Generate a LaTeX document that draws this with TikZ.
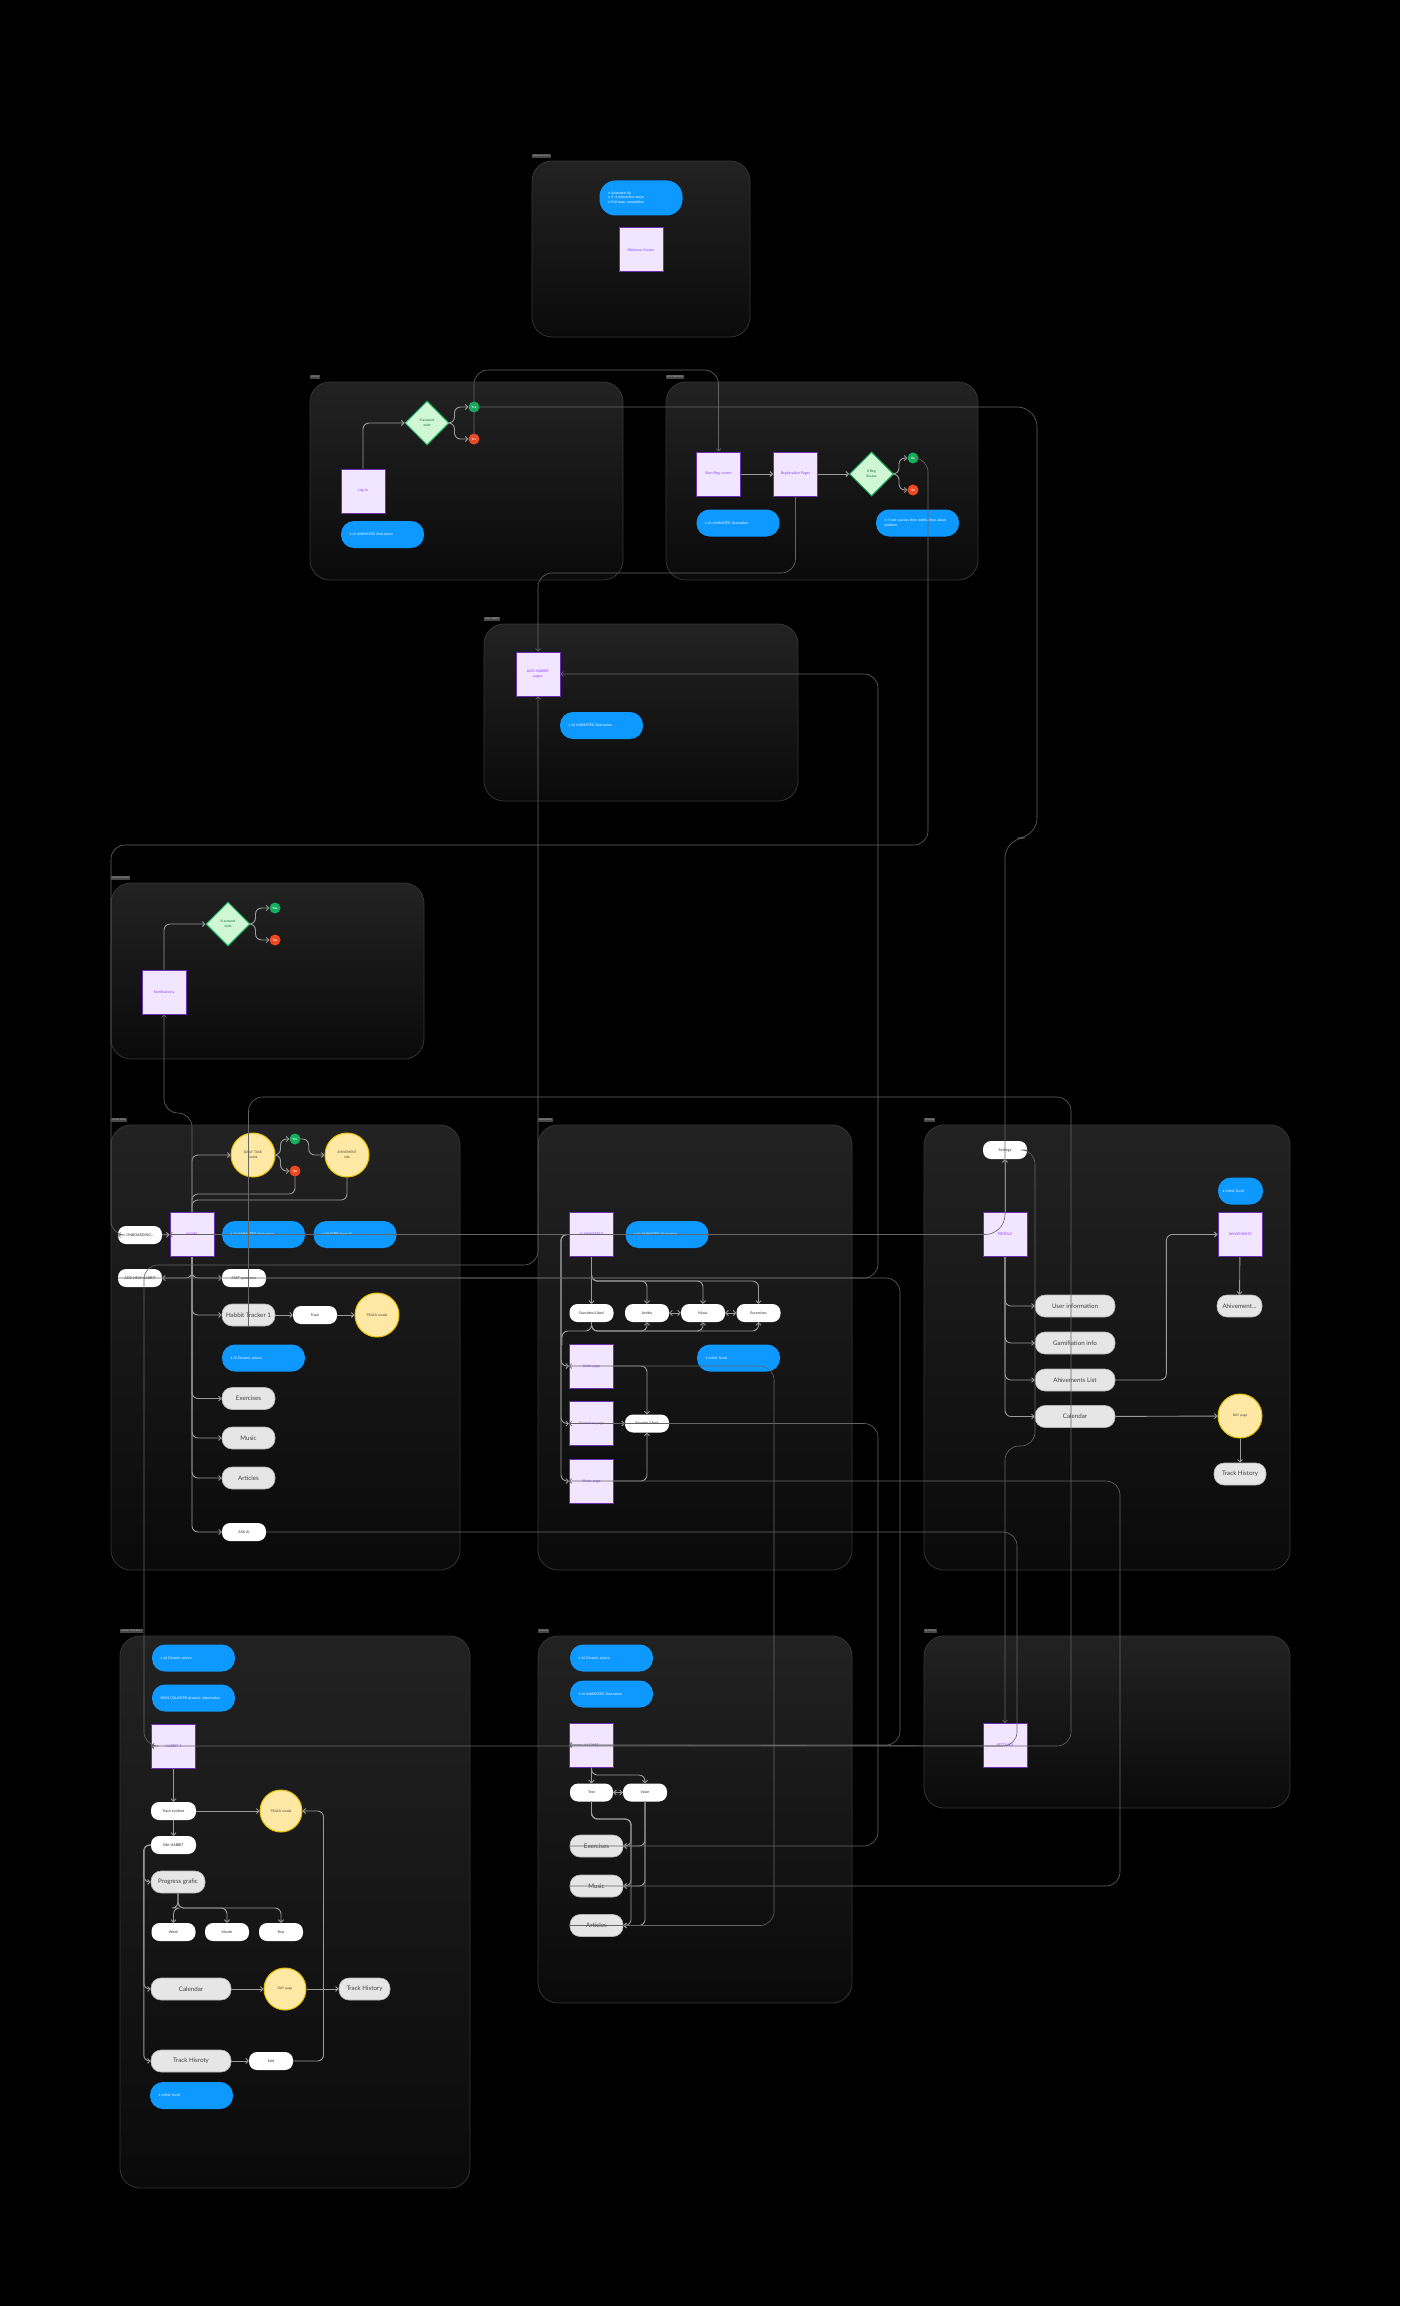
\documentclass[tikz,border=0pt]{standalone}
\usepackage{fontspec}
\setmainfont{Lato}
\usetikzlibrary{arrows.meta,positioning,shapes.geometric,calc}

\definecolor{panelline}{HTML}{353535}
\definecolor{paneltop}{HTML}{222222}
\definecolor{panelbot}{HTML}{0A0A0A}
\definecolor{tabfill}{HTML}{474747}
\definecolor{pagefill}{HTML}{F1E5FF}
\definecolor{pageline}{HTML}{6A2FB0}
\definecolor{pagetext}{HTML}{8A3FFC}
\definecolor{noteblue}{HTML}{0D99FF}
\definecolor{pillgray}{HTML}{E6E6E6}
\definecolor{pillline}{HTML}{B3B3B3}
\definecolor{modalfill}{HTML}{FFE8A3}
\definecolor{modalline}{HTML}{E5C000}
\definecolor{checkfill}{HTML}{CFF7D3}
\definecolor{checkline}{HTML}{14AE5C}
\definecolor{yesgreen}{HTML}{14AE5C}
\definecolor{nored}{HTML}{F24822}
\definecolor{linkgray}{HTML}{9A9A9A}
\definecolor{wiregray}{HTML}{666666}

\begin{document}
\begin{tikzpicture}[x=1pt,y=-1pt,
      panelbox/.style={draw=panelline, line width=0.8pt, rounded corners=20pt,
         top color=paneltop, bottom color=panelbot},
      tabbox/.style={fill=tabfill, text=white!80!black, inner sep=1pt,
         anchor=south west, font=\fontsize{2.3}{2.6}\selectfont},
      pagebox/.style={rectangle, fill=pagefill, draw=pageline, line width=1pt,
         minimum size=44pt, text width=38pt, align=center, inner sep=1pt,
         text=pagetext, font=\fontsize{3.6}{4.8}\selectfont},
      notebox/.style={rectangle, rounded corners=13pt, fill=noteblue,
         minimum width=83pt, minimum height=27pt, text width=66pt, align=left,
         text=white, font=\fontsize{3.5}{4.8}\selectfont},
      pillbox/.style={rectangle, rounded corners=8pt, fill=white,
         minimum width=44pt, minimum height=18pt, inner sep=1pt,
         text=black!85, font=\fontsize{3.6}{4.4}\selectfont},
      btnbox/.style={rectangle, rounded corners=10pt, fill=pillgray,
         draw=pillline, line width=0.6pt, minimum width=53pt, minimum height=22pt,
         inner sep=1pt, text=black!75, font=\fontsize{6.2}{7.4}\selectfont},
      modalcirc/.style={circle, fill=modalfill, draw=modalline, line width=1pt,
         minimum size=44pt, text width=26pt, align=center, inner sep=0pt,
         text=black!75, font=\fontsize{3.3}{4.6}\selectfont},
      checkdia/.style={diamond, aspect=1, fill=checkfill, draw=checkline,
         line width=1pt, minimum size=44pt, inner sep=0pt, align=center,
         text=checkline!60!black, font=\fontsize{3.4}{4.8}\selectfont},
      yesdot/.style={circle, fill=yesgreen, minimum size=11pt, inner sep=0pt,
         text=white, font=\fontsize{3}{3.5}\selectfont\bfseries},
      nodot/.style={yesdot, fill=nored},
      link/.style={draw=linkgray, line width=0.9pt, rounded corners=6pt,
         -{Straight Barb[length=2.5pt,width=5pt]}},
      wire/.style={draw=wiregray, line width=0.6pt, rounded corners=14pt,
         -{Straight Barb[length=2.5pt,width=5pt]}},
      twoway/.style={{Straight Barb[length=2.5pt,width=5pt]}-{Straight Barb[length=2.5pt,width=5pt]}}
      ]
      \fill[black] (0,0) rectangle (1400,2306);
      \useasboundingbox (0,0) rectangle (1400,2306);

    % sections
    \foreach \lbl/\xa/\ya/\xb/\yb in {%
      Welcome Screen/532/161/750/337,
      LOG IN/310/382/623/580,
      REGISTRATION/666/382/978/580,
      ADD HABBIT/484/624/798/801,
      NOTIFICATIONS/111/883/424/1059,
      HOME PAGE/111/1125/460/1570,
      NEWSFEED/538/1125/852/1570,
      PROFILE/924/1125/1290/1570,
      HABBIT TRACKER 1/120/1636/470/2188,
      AI CHAT/538/1636/852/2003,
      SETTINGS/924/1636/1290/1808}{
      \path[panelbox] (\xa,\ya) rectangle (\xb,\yb);
      \node[tabbox] at (\xa,\ya-3) {\lbl};
    }

    % welcome
    \node[notebox, minimum height=35pt, rounded corners=16pt] (wnote) at (641,198)
       {• Animated ills\\ • 3–4 interactive steps\\ • Full steps completion};
    \node[pagebox] (welcome) at (641,250) {Welcome Screen};

    % log in
    \node[pagebox] (login) at (363,491) {Log In};
    \node[checkdia] (logcheck) at (427,423) {If account\\exist};
    \node[yesdot] (logyes) at (474,407) {Yes};
    \node[nodot] (logno) at (474,439) {No};
    \node[notebox] (lognote) at (382.5,534.5) {• AI ANIMATED illustration};

    % registration
    \node[pagebox] (startreg) at (718.5,474) {Start Reg screen};
    \node[pagebox, right=32pt of startreg] (regpages) {Registration Pages};
    \node[checkdia, right=31pt of regpages] (regcheck) {If Reg\\Sucess};
    \node[yesdot] (regyes) at (913,458) {Yes};
    \node[nodot] (regno) at (913,490) {No};
    \node[notebox] (regnote) at (738,523) {• AI ANIMATED illustration};
    \node[notebox] (failnote) at (917.5,523) {• If not success then notifiaction about problem};

    % add habbit
    \node[pagebox] (addpage) at (538,674) {ADD HABBIT\\pages};
    \node[notebox] (addnote) at (601.5,725.5) {• AI ANIMATED illustration};

    % notifications
    \node[pagebox] (notepage) at (164,992) {Notifications};
    \node[checkdia] (notecheck) at (228,924) {If account\\exist};
    \node[yesdot] (noteyes) at (275,908) {Yes};
    \node[nodot] (noteno) at (275,940) {No};

    % home page
    \node[modalcirc] (daily) at (253,1155) {DAILY TASK\\modal};
    \node[yesdot] (dayyes) at (295,1139) {Yes};
    \node[nodot] (dayno) at (295,1171) {No};
    \node[modalcirc] (achinfo) at (347,1155) {AHIVEMENT\\info};
    \node[pagebox] (home) at (192,1234.5) {HOME};
    \node[pillbox] (onboard) at (140,1235) {ONBOARDING...};
    \node[notebox] (homenote) at (263.5,1234.5) {• AI ANIMATED illustration};
    \node[notebox] (quotenote) at (355,1234.5) {• QUOTES from AI};
    \node[pillbox] (addnew) at (140,1278) {ADD NEW HABBIT};
    \node[pillbox] (fastq) at (244,1278) {FAST questions};
    \node[btnbox] (tracker) at (248.5,1315) {Habbit Tracker 1};
    \node[pillbox] (track) at (315,1315) {Track};
    \node[modalcirc] (trackmodal) at (377,1315) {TRACK modal};
    \node[notebox] (advice) at (263.5,1358) {• AI Dinamic advice};
    \node[btnbox] (hexerc) at (248.5,1398.5) {Exercises};
    \node[btnbox] (hmusic) at (248.5,1438) {Music};
    \node[btnbox] (harticles) at (248.5,1478) {Articles};
    \node[pillbox] (askai) at (244,1532) {ASK AI};

    % newsfeed
    \node[pagebox] (aifeed) at (591.5,1234.5) {AI NEWSFEED};
    \node[notebox] (feednote) at (667,1234.5) {• AI ANIMATED illustration};
    \node[pillbox] (favs) at (591.5,1313) {Favorites/Liked};
    \node[pillbox] (artiles) at (647,1313) {Artiles};
    \node[pillbox] (fmusic) at (703,1313) {Music};
    \node[pillbox] (fexerc) at (758.5,1313) {Excercises};
    \node[pagebox] (artpage) at (591.5,1366) {Artile page};
    \node[pagebox] (excpage) at (591.5,1423.5) {Excercises page};
    \node[pagebox] (muspage) at (591.5,1481) {Music page};
    \node[pillbox] (liked) at (647,1423.5) {Favorite/Liked};
    \node[notebox] (feedscroll) at (738.5,1358) {• Infinit Scroll};

    % profile
    \node[pillbox] (settings) at (1005,1150) {Settings};
    \node[pagebox] (profile) at (1005,1234.5) {PROFILE};
    \node[btnbox, minimum width=80pt] (userinfo) at (1075,1306) {User information};
    \node[btnbox, minimum width=80pt] (gamif) at (1075,1343) {Gamifiation info};
    \node[btnbox, minimum width=80pt] (achlist) at (1075,1380) {Ahivements List};
    \node[btnbox, minimum width=80pt] (pcal) at (1075,1416.5) {Calendar};
    \node[notebox, minimum width=45pt, text width=36pt] (achscroll) at (1240.5,1191) {• Infinit Scroll};
    \node[pagebox] (achpage) at (1240,1234.5) {AHIVEMENTS};
    \node[btnbox, minimum width=45pt] (achone) at (1239.5,1306) {Ahivement...};
    \node[modalcirc] (pday) at (1240,1416) {DAY page};
    \node[btnbox, minimum width=52pt] (phist) at (1240,1474) {Track History};

    % habbit tracker
    \node[notebox] (htnote1) at (193.5,1658) {• AI Dinamic advice};
    \node[notebox] (htnote2) at (193.5,1698) {DAYS COUNTER dynamic information};
    \node[pagebox] (habbit) at (173.5,1746) {HABBIT 1};
    \node[pillbox, minimum width=45pt] (incident) at (173.5,1811) {Track incident};
    \node[modalcirc, minimum size=42pt] (hmodal) at (281,1811) {TRACK modal};
    \node[pillbox, minimum width=45pt] (hedithab) at (173.5,1845) {Edit HABBIT};
    \node[btnbox, minimum width=54pt] (progress) at (178,1882) {Progress grafic};
    \node[pillbox] (week) at (173.5,1932) {Week};
    \node[pillbox] (month) at (227,1932) {Month};
    \node[pillbox] (year) at (281,1932) {Year};
    \node[btnbox, minimum width=80pt] (hcal) at (191,1989) {Calendar};
    \node[modalcirc, minimum size=42pt] (hday) at (285,1989) {DAY page};
    \node[btnbox, minimum width=51pt] (hhist) at (364.5,1989) {Track History};
    \node[btnbox, minimum width=80pt] (hisroty) at (191,2061) {Track Hisroty};
    \node[pillbox] (hedit) at (271,2061) {Edit};
    \node[notebox] (hscroll) at (191.5,2095.5) {• Infinit Scroll};

    % ai chat
    \node[notebox] (chatnote1) at (611.5,1658) {• AI Dinamic advice};
    \node[notebox] (chatnote2) at (611.5,1694) {• AI ANIMATED illustration};
    \node[pagebox] (chat) at (591.5,1745) {AI CHAT};
    \node[pillbox, minimum width=43pt] (ctext) at (591.5,1792.5) {Text};
    \node[pillbox] (cvoice) at (645,1792.5) {Voice};
    \node[btnbox] (cexerc) at (596.5,1846) {Exercises};
    \node[btnbox] (cmusic) at (596.5,1886) {Music};
    \node[btnbox] (carticles) at (596.5,1925.5) {Articles};

    % settings
    \node[pagebox] (setpage) at (1005,1745.5) {SETTINGS};

    % links inside the sections
    \foreach \c/\y/\n in {logcheck/logyes/logno, regcheck/regyes/regno, notecheck/noteyes/noteno, daily/dayyes/dayno}{
      \draw[link] (\c.east) -- ++(5,0) |- (\y.west);
      \draw[link] (\c.east) -- ++(5,0) |- (\n.west);
    }
    \draw[link] (login.north) |- (logcheck.west);
    \draw[link] (notepage.north) |- (notecheck.west);
    \draw[link] (startreg) -- (regpages);
    \draw[link] (regpages) -- (regcheck);

    \draw[link] (home.north) |- (daily.west);
    \draw[link] (dayyes.east) -- ++(8,0) |- (achinfo.west);
    \draw[link,-] (dayno.south) |- ([yshift=18pt]home.north) -- (home.north);
    \draw[link,-] (achinfo.south) |- ([yshift=12pt]home.north) -- (home.north);
    \draw[link] (onboard) -- (home);
    \foreach \t in {fastq,tracker,hexerc,hmusic,harticles,askai}
      \draw[link] (home.south) |- (\t.west);
    \draw[link] (home.south) |- (addnew.east);
    \draw[link] (tracker) -- (track);
    \draw[link] (track) -- (trackmodal);

    \coordinate (feedbus) at (591.5,1281);
    \coordinate (likebus) at (591.5,1331);
    \draw[link] (aifeed) -- (favs);
    \foreach \t in {artiles,fmusic,fexerc}{
      \draw[link] (aifeed.south) |- (\t.north |- feedbus) -- (\t.north);
      \draw[link] (favs.south) |- (\t.south |- likebus) -- (\t.south);
    }
    \draw[link,twoway] (artiles) -- (fmusic);
    \draw[link,twoway] (fmusic) -- (fexerc);
    \foreach \t in {artpage,excpage,muspage}
      \draw[link] (aifeed.west) -- ++(-8,0) |- (\t.west);
    \draw[link,-] (favs.south) |- (562,1331) -- (562,1345);
    \draw[link] (artpage.east) -| (liked.north);
    \draw[link] (excpage) -- (liked);
    \draw[link] (muspage.east) -| (liked.south);

    \draw[link] (profile) -- (settings);
    \foreach \t in {userinfo,gamif,achlist,pcal}
      \draw[link] (profile.south) |- (\t.west);
    \draw[link] (achlist.east) -| ($(achlist.east)!0.5!(achpage.west)$) |- (achpage.west);
    \draw[link] (achpage) -- (achone);
    \draw[link] (pcal) -- (pday);
    \draw[link] (pday) -- (phist);

    \coordinate (gbus) at (178,1908);
    \draw[link] (habbit) -- (incident);
    \draw[link] (incident) -- (hedithab);
    \draw[link] (incident) -- (hmodal);
    \foreach \t in {progress,hcal,hisroty}
      \draw[link] (hedithab.west) -- ++(-7,0) |- (\t.west);
    \foreach \t in {week,month,year}
      \draw[link] (progress.south) |- (\t.north |- gbus) -- (\t.north);
    \draw[link] (hcal) -- (hday);
    \draw[link] (hday) -- (hhist);
    \draw[link] (hisroty) -- (hedit);
    \draw[link] (hedit.east) -| ([xshift=21pt]hmodal.east) -- (hmodal.east);

    \coordinate (chatbus) at (591.5,1775);
    \draw[link] (chat) -- (ctext);
    \draw[link] (chat.south) |- (cvoice.north |- chatbus) -- (cvoice.north);
    \draw[link,twoway] (ctext) -- (cvoice);
    \foreach \t in {cexerc,cmusic,carticles}{
      \draw[link] (ctext.south) |- (631,1819) |- (\t.east);
      \draw[link] (cvoice.south) |- (\t.east);
    }

    % long connectors between the sections
    \draw[wire] (logno.south) -- (474,370) -| (startreg.north);
    \draw[wire, rounded corners=20pt] (logyes.east) -| (1037,838) -| (1005,1234.5) -- (home.west);
    \draw[wire] (regyes.east) -| (928,845) -| (111,1235) -- (onboard.west);
    \draw[wire] (regpages.south) |- (538,573) -- (addpage.north);
    \draw[wire, twoway] (addpage.south) -- (538,1265) -| (144,1746) -- (habbit.west);
    \draw[wire] (addnew.west) -- (878,1278) |- (addpage.east);
    \draw[wire] (fastq.east) -- (900,1278) |- (chat.west);
    \draw[wire] (tracker.south) -- (248.5,1097) -| (1071,1746) -- (habbit.west);
    \draw[wire] (askai.east) -| (1017,1746) -- (chat.west);
    \draw[wire] (home.north) -- (192,1113) -| (notepage.south);
    \draw[wire] (settings.east) -| (1035,1446) -| (setpage.north);
    \draw[wire] (carticles.west) -- (774,1925.5) |- (artpage.west);
    \draw[wire] (cexerc.west) -- (878,1846) |- (excpage.west);
    \draw[wire] (cmusic.west) -- (1120,1886) |- (muspage.west);

\end{tikzpicture}
\end{document}
